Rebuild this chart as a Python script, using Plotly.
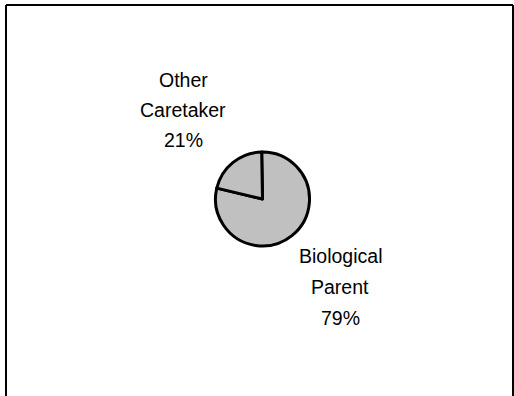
import plotly.graph_objects as go

# Share of children by caretaker type
categories = ["Biological Parent", "Other Caretaker"]
shares = [79, 21]
label_lines = [["Biological", "Parent", "79%"], ["Other", "Caretaker", "21%"]]

W, H = 514, 396

fig = go.Figure(
    go.Pie(
        labels=categories,
        values=shares,
        sort=False,
        direction="clockwise",
        rotation=-1,
        textinfo="none",
        hoverinfo="label+percent",
        marker=dict(colors=["#C0C0C0", "#C0C0C0"], line=dict(color="#000000", width=3)),
        domain=dict(x=[(262.5 - 47) / W, (262.5 + 47) / W], y=[(H - 199 - 47) / H, (H - 199 + 47) / H]),
        showlegend=False,
    )
)

# Multi-line slice labels, placed beside the pie
label_pos = [(340, [256, 287, 318]), (183, [80, 110, 140])]
annotations = []
for lines, (cx, ys) in zip(label_lines, label_pos):
    for txt, cy in zip(lines, ys):
        annotations.append(
            dict(
                text=txt, x=cx / W, y=1 - cy / H, xref="paper", yref="paper",
                xanchor="center", yanchor="middle", showarrow=False,
                font=dict(family="Liberation Sans, Arial, sans-serif", size=19.5, color="#000000"),
            )
        )

# Chart frame (open at the bottom edge of the view)
shapes = [
    dict(type="line", xref="paper", yref="paper", x0=6 / W, x1=6 / W, y0=-0.05, y1=1 - 5 / H,
         line=dict(color="#000000", width=2)),
    dict(type="line", xref="paper", yref="paper", x0=6 / W, x1=513 / W, y0=1 - 5 / H, y1=1 - 5 / H,
         line=dict(color="#000000", width=2)),
    dict(type="line", xref="paper", yref="paper", x0=513 / W, x1=513 / W, y0=-0.05, y1=1 - 5 / H,
         line=dict(color="#000000", width=2)),
]

fig.update_layout(
    width=W, height=H,
    margin=dict(l=0, r=0, t=0, b=0),
    paper_bgcolor="#FFFFFF", plot_bgcolor="#FFFFFF",
    annotations=annotations, shapes=shapes,
)

fig.write_html("out.html")
